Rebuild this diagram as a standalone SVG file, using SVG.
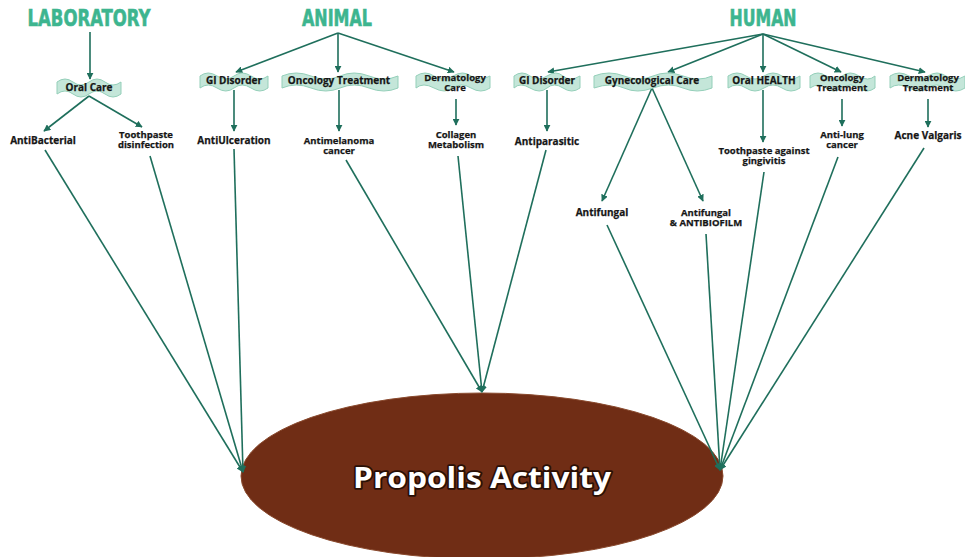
<svg xmlns="http://www.w3.org/2000/svg" width="965" height="557" viewBox="0 0 965 557">
  <style>
    .title { font-family: "DejaVu Sans Condensed", "DejaVu Sans", sans-serif; font-weight: bold; font-size: 23px; fill: #3db58f; stroke: #3db58f; stroke-width: 0.6px; text-anchor: middle; }
    .lbl { font-family: "Open Sans", "Liberation Sans", sans-serif; font-weight: bold; font-size: 10px; fill: #161616; stroke: #161616; stroke-width: 0.25px; text-anchor: middle; }
    .lbl2 { font-size: 9.5px; }
    .ribbon { fill: #c4e6d9; stroke: #94cfb9; stroke-width: 1; }
    .conn path { fill: none; stroke: #1f6f5c; stroke-width: 1.6; marker-end: url(#arr); }
    .hub { fill: #702d15; stroke: #8a4a2e; stroke-width: 1; }
    .hubtxt { font-family: "Open Sans", "Liberation Sans", sans-serif; font-weight: bold; font-size: 29px; fill: #ffffff; stroke: #2a1006; stroke-width: 3.5px; paint-order: stroke; stroke-linejoin: round; text-anchor: middle; }
  </style>
  <defs>
    <marker id="arr" viewBox="0 0 10 10" refX="9" refY="5" markerWidth="7" markerHeight="7" markerUnits="userSpaceOnUse" orient="auto">
      <path d="M0,0 L10,5 L0,10 Z" fill="#1f6f5c"/>
    </marker>
  </defs>
  <rect width="965" height="557" fill="#ffffff"/>

  <!-- central hub -->
  <g id="propolis">
    <ellipse class="hub" cx="482" cy="476" rx="241" ry="83"/>
    <text class="hubtxt" x="482" y="488" textLength="258" lengthAdjust="spacingAndGlyphs">Propolis Activity</text>
  </g>

  <!-- connectors -->
  <g class="conn" id="connectors">
    <path d="M90,32 L90,79"/>
    <path d="M89,96 L44,131"/>
    <path d="M89,96 L142,127"/>
    <path d="M45,150 L243,472"/>
    <path d="M150,156 L243,472"/>
    <path d="M234,149 L243,472"/>
    <path d="M338,33 L236,72"/>
    <path d="M338,33 L338,72"/>
    <path d="M338,33 L454,72"/>
    <path d="M234,90 L234,131"/>
    <path d="M339,90 L339,131"/>
    <path d="M456,99 L456,125"/>
    <path d="M346,160 L482,392"/>
    <path d="M458,156 L482,392"/>
    <path d="M546,150 L482,392"/>
    <path d="M763,34 L548,72"/>
    <path d="M763,34 L668,72"/>
    <path d="M763,34 L763,72"/>
    <path d="M763,34 L841,72"/>
    <path d="M763,34 L925,72"/>
    <path d="M547,90 L547,131"/>
    <path d="M652,88 L602,201"/>
    <path d="M652,88 L703,201"/>
    <path d="M763,90 L763,142"/>
    <path d="M842,99 L842,126"/>
    <path d="M928,99 L928,127"/>
    <path d="M607,225 L720,470"/>
    <path d="M706,234 L720,470"/>
    <path d="M764,172 L720,470"/>
    <path d="M838,157 L720,470"/>
    <path d="M924,148 L720,470"/>
  </g>

  <!-- top categories -->
  <g id="laboratory"><text class="title" x="89" y="26" textLength="123" lengthAdjust="spacingAndGlyphs">LABORATORY</text></g>
  <g id="animal"><text class="title" x="337" y="26" textLength="70" lengthAdjust="spacingAndGlyphs">ANIMAL</text></g>
  <g id="human"><text class="title" x="763" y="26" textLength="67" lengthAdjust="spacingAndGlyphs">HUMAN</text></g>

  <!-- laboratory branch -->
  <g id="lab-oral-care">
    <path class="ribbon" d="M57,82 Q65,76 73,82 T89,82 T105,82 T121,82 L121,94 Q113,100 105,94 T89,94 T73,94 T57,94 Z"/>
    <text class="lbl" x="89" y="91">Oral Care</text>
  </g>
  <g id="lab-antibacterial"><text class="lbl" x="43" y="144">AntiBacterial</text></g>
  <g id="lab-toothpaste"><text class="lbl lbl2" x="146" y="137.5">Toothpaste<tspan x="146" dy="10">disinfection</tspan></text></g>

  <!-- animal branch -->
  <g id="animal-gi">
    <path class="ribbon" d="M200,76 Q208,70 217,76 T234,76 T251,76 T268,76 L268,88 Q260,94 251,88 T234,88 T217,88 T200,88 Z"/>
    <text class="lbl" x="234" y="84">GI Disorder</text>
  </g>
  <g id="animal-oncology">
    <path class="ribbon" d="M282,76 Q296,70 311,76 T340,76 T369,76 T398,76 L398,88 Q384,94 369,88 T340,88 T311,88 T282,88 Z"/>
    <text class="lbl" x="339" y="84">Oncology Treatment</text>
  </g>
  <g id="animal-dermatology">
    <path class="ribbon" d="M416,76 Q425,70 434,76 T453,76 T471,76 T490,76 L490,88 Q481,94 471,88 T453,88 T434,88 T416,88 Z"/>
    <text class="lbl lbl2" x="455" y="81">Dermatology<tspan x="455" dy="10">Care</tspan></text>
  </g>
  <g id="animal-antiulceration"><text class="lbl" x="234" y="144">AntiUlceration</text></g>
  <g id="animal-antimelanoma"><text class="lbl lbl2" x="339" y="144">Antimelanoma<tspan x="339" dy="10">cancer</tspan></text></g>
  <g id="animal-collagen"><text class="lbl lbl2" x="456" y="137.5">Collagen<tspan x="456" dy="10">Metabolism</tspan></text></g>

  <!-- human branch -->
  <g id="human-gi">
    <path class="ribbon" d="M514,76 Q522,70 530,76 T547,76 T563,76 T580,76 L580,88 Q572,94 563,88 T547,88 T530,88 T514,88 Z"/>
    <text class="lbl" x="547" y="84">GI Disorder</text>
  </g>
  <g id="human-gynecological">
    <path class="ribbon" d="M594,76 Q609,70 624,76 T653,76 T683,76 T712,76 L712,88 Q697,94 683,88 T653,88 T624,88 T594,88 Z"/>
    <text class="lbl" x="652" y="84">Gynecological Care</text>
  </g>
  <g id="human-oral">
    <path class="ribbon" d="M728,76 Q737,70 746,76 T764,76 T782,76 T800,76 L800,88 Q791,94 782,88 T764,88 T746,88 T728,88 Z"/>
    <text class="lbl" x="764" y="84">Oral HEALTH</text>
  </g>
  <g id="human-oncology">
    <path class="ribbon" d="M810,76 Q818,70 826,76 T842,76 T859,76 T875,76 L875,88 Q867,94 859,88 T842,88 T826,88 T810,88 Z"/>
    <text class="lbl lbl2" x="842" y="81">Oncology<tspan x="842" dy="10">Treatment</tspan></text>
  </g>
  <g id="human-dermatology">
    <path class="ribbon" d="M890,76 Q899,70 909,76 T928,76 T946,76 T965,76 L965,88 Q956,94 946,88 T928,88 T909,88 T890,88 Z"/>
    <text class="lbl lbl2" x="928" y="81">Dermatology<tspan x="928" dy="10">Treatment</tspan></text>
  </g>
  <g id="human-antiparasitic"><text class="lbl" x="547" y="145">Antiparasitic</text></g>
  <g id="human-toothpaste"><text class="lbl lbl2" x="764" y="154">Toothpaste against<tspan x="764" dy="10">gingivitis</tspan></text></g>
  <g id="human-antilung"><text class="lbl lbl2" x="842" y="137.5">Anti-lung<tspan x="842" dy="10">cancer</tspan></text></g>
  <g id="human-acne"><text class="lbl" x="928" y="139">Acne Valgaris</text></g>
  <g id="human-antifungal"><text class="lbl" x="602" y="216">Antifungal</text></g>
  <g id="human-antibiofilm"><text class="lbl lbl2" x="706" y="216">Antifungal<tspan x="706" dy="10">&amp; ANTIBIOFILM</tspan></text></g>
</svg>
